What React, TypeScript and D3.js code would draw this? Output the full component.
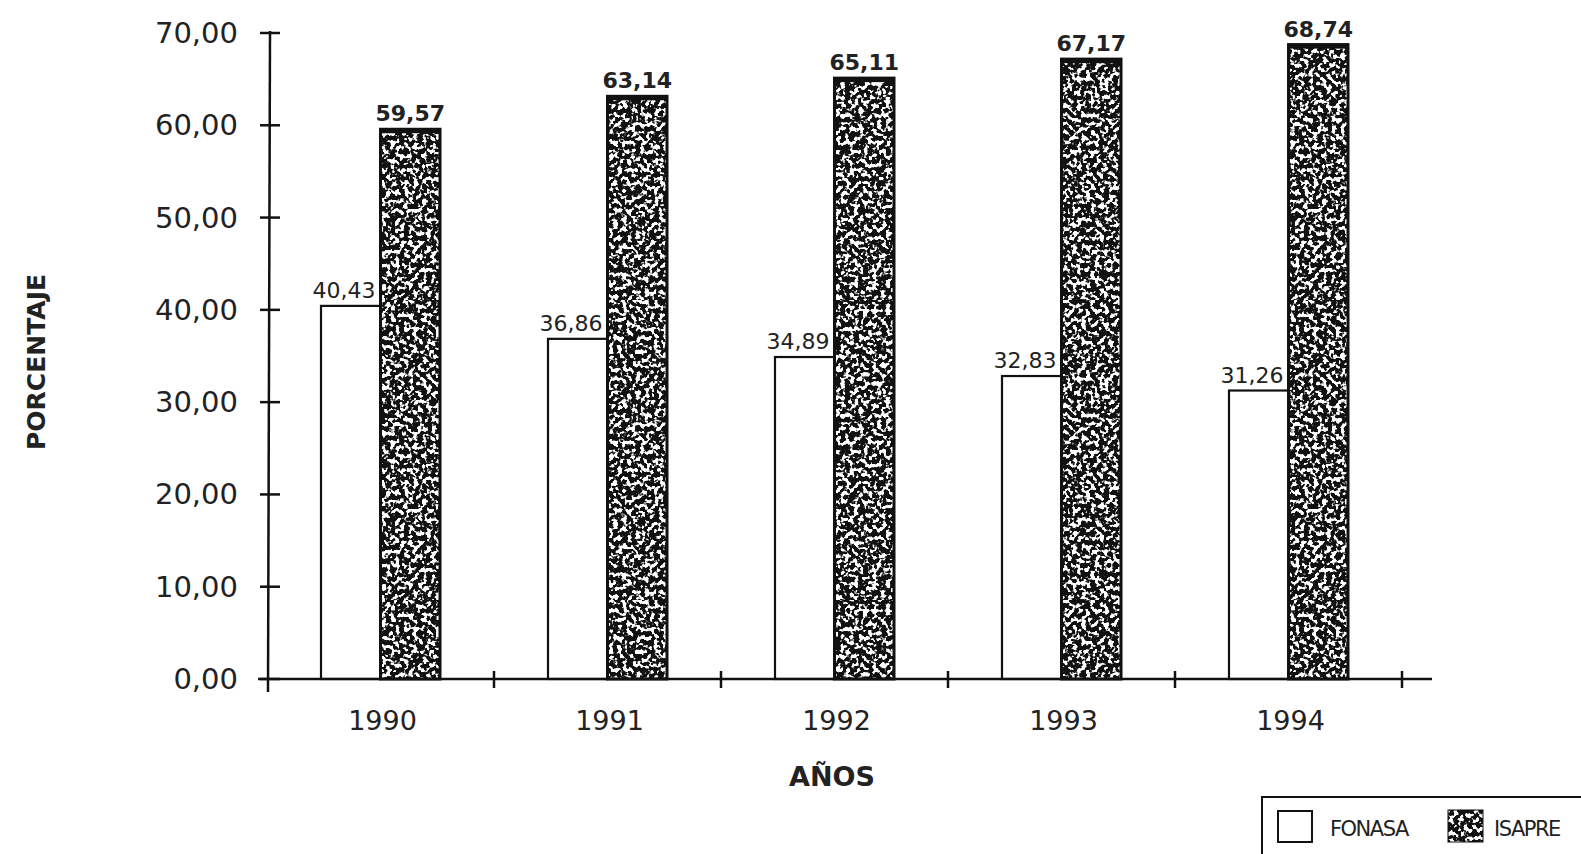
import React from "react";
import * as d3 from "d3";

const years = ["1990", "1991", "1992", "1993", "1994"];
const fonasa = [40.43, 36.86, 34.89, 32.83, 31.26];
const isapre = [59.57, 63.14, 65.11, 67.17, 68.74];
const series = ["FONASA", "ISAPRE"];
const yTicks = [0, 10, 20, 30, 40, 50, 60, 70];

const W = 1581;
const H = 854;
const FONT = "'DejaVu Sans', 'Open Sans', sans-serif";
const fmt = (v: number) => v.toFixed(2).replace(".", ",");

export default function App() {
  const x = d3.scaleBand<string>().domain(years).range([267, 1402]).padding(0);
  const bw = x.bandwidth();
  const xs = d3.scaleBand<string>().domain(series).range([54, bw - 54]).padding(0);
  const y = d3.scaleLinear().domain([0, 70]).range([679, 33]);
  const boundaries = [...years.map((yr) => x(yr) as number), 1402];

  return (
    <svg
      width={W}
      height={H}
      style={{ position: "absolute", left: 0, top: 0, background: "#fff" }}
      fontFamily={FONT}
    >
      <defs>
        <filter id="speck" x="0" y="0" width="100%" height="100%">
          <feTurbulence type="fractalNoise" baseFrequency="0.22" numOctaves={2} seed={5} result="n" />
          <feColorMatrix
            in="n"
            type="matrix"
            values="0 0 0 0 1  0 0 0 0 1  0 0 0 0 1  12 0 0 0 -6.0"
          />
        </filter>
        <pattern id="tex" patternUnits="userSpaceOnUse" width={300} height={300}>
          <rect width={300} height={300} fill="#111" />
          <rect width={300} height={300} filter="url(#speck)" />
        </pattern>
      </defs>

      {/* bars */}
      {years.map((yr, i) => {
        const x0 = x(yr) as number;
        const fx = x0 + (xs("FONASA") as number);
        const ix = x0 + (xs("ISAPRE") as number);
        const sw = xs.bandwidth();
        return (
          <g key={yr}>
            <rect
              x={fx}
              y={y(fonasa[i])}
              width={sw}
              height={y(0) - y(fonasa[i])}
              fill="#fff"
              stroke="#111"
              strokeWidth={2.2}
            />
            <rect
              x={ix}
              y={y(isapre[i])}
              width={sw}
              height={y(0) - y(isapre[i])}
              fill="url(#tex)"
              stroke="#111"
              strokeWidth={3}
            />
            <rect x={ix} y={y(isapre[i]) - 1} width={sw} height={5} fill="#111" />
            <text
              x={fx + sw - 5}
              y={y(fonasa[i]) - 8}
              textAnchor="end"
              fontSize={22}
              fill="#222"
            >
              {fmt(fonasa[i])}
            </text>
            <text
              x={ix + sw / 2}
              y={y(isapre[i]) - 8}
              textAnchor="middle"
              fontSize={22}
              fontWeight="bold"
              fill="#222"
            >
              {fmt(isapre[i])}
            </text>
          </g>
        );
      })}

      {/* y axis */}
      <line x1={270} x2={268} y1={y(70) - 2} y2={692} stroke="#111" strokeWidth={2.5} />
      {yTicks.map((t) => (
        <g key={t}>
          <line x1={260} x2={280} y1={y(t)} y2={y(t)} stroke="#111" strokeWidth={2.5} />
          <text x={238} y={y(t) + 10} textAnchor="end" fontSize={29} fill="#222">
            {fmt(t)}
          </text>
        </g>
      ))}

      {/* x axis */}
      <line x1={258} x2={1432} y1={y(0)} y2={y(0)} stroke="#111" strokeWidth={2.5} />
      {boundaries.slice(1).map((b, i) => (
        <line key={i} x1={b} x2={b} y1={y(0) - 8} y2={y(0) + 9} stroke="#111" strokeWidth={2.5} />
      ))}
      {years.map((yr) => (
        <text
          key={yr}
          x={(x(yr) as number) + bw / 2 + 2}
          y={730}
          textAnchor="middle"
          fontSize={27}
          fill="#222"
        >
          {yr}
        </text>
      ))}

      <text x={832} y={786} textAnchor="middle" fontSize={27} fontWeight="bold" fill="#222">
        AÑOS
      </text>
      <text
        transform="translate(45,362) rotate(-90)"
        textAnchor="middle"
        fontSize={25}
        fontWeight="bold"
        fill="#222"
      >
        PORCENTAJE
      </text>

      {/* legend */}
      <rect x={1262} y={797} width={340} height={80} fill="#fff" stroke="#111" strokeWidth={2} />
      <rect x={1278} y={811} width={34} height={31} fill="#fff" stroke="#111" strokeWidth={2} />
      <text x={1330} y={836} fontSize={21} fill="#222" letterSpacing={-1.5}>
        FONASA
      </text>
      <rect x={1448} y={810} width={35} height={32} fill="url(#tex)" stroke="#111" strokeWidth={1} />
      <text x={1494} y={836} fontSize={21} fill="#222" letterSpacing={-1.5}>
        ISAPRE
      </text>
    </svg>
  );
}
